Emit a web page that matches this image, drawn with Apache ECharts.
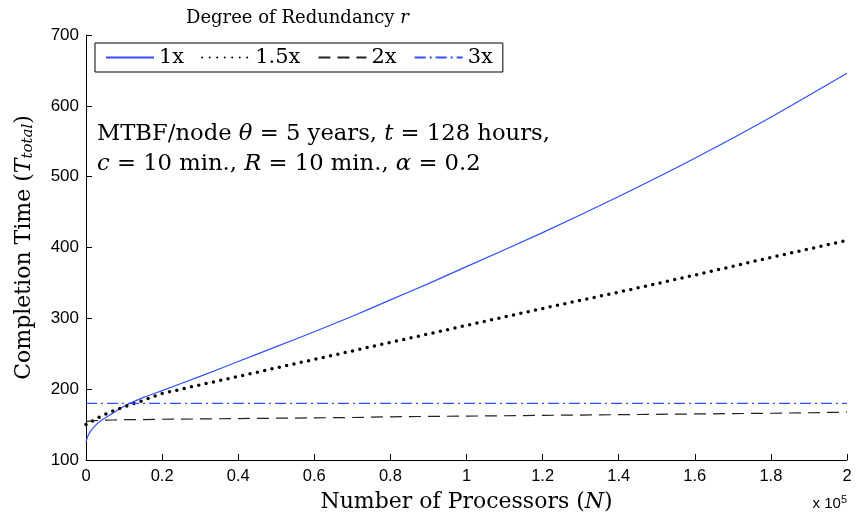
<!DOCTYPE html>
<html>
<head>
<meta charset="utf-8">
<script src="https://cdn.jsdelivr.net/npm/echarts@6/dist/echarts.min.js"></script>
<style>
  html, body { margin: 0; padding: 0; background: #fff; }
  #chart { width: 862px; height: 514px; }
</style>
</head>
<body>
<div id="chart"></div>
<script>
// number of processors, in units of 10^5
var procs = [0, 0.005, 0.01, 0.02, 0.04, 0.07, 0.1, 0.15, 0.2, 0.3, 0.4, 0.5, 0.6, 0.7, 0.8, 0.9, 1.0, 1.2, 1.4, 1.6, 1.8, 2.0];

// completion time per degree of redundancy
var red1x  = [126, 134, 139, 146, 156, 166, 176, 188, 198, 218, 239, 260, 281, 303, 326, 349, 373, 421, 472, 526, 584, 646];
var red15x = [150, 151, 153, 156, 162, 169, 175, 184, 194, 206, 218, 230, 242, 254, 266, 278, 290, 314, 337, 361, 386, 410];
var red2x  = [155, 155, 155, 155.5, 156, 156.5, 157, 157, 157.5, 158, 158.5, 159, 159.5, 160, 161, 161.5, 162, 163, 164, 165, 166, 167.5];
var red3x  = [180, 180, 180, 180, 180, 180, 180, 180, 180, 180, 180, 180, 180, 180, 180, 180, 180, 180, 180, 180, 180, 180];

var seriesNames = ['1x', '1.5x', '2x', '3x'];

function pairs(vals) {
  return procs.map(function (n, i) { return [n, vals[i]]; });
}

var serif = 'DejaVu Serif';
var sans = 'Liberation Sans';

var myChart = echarts.init(document.getElementById('chart'));

option = {
  backgroundColor: '#fff',
  animation: false,
  grid: { left: 86, right: 15, top: 35, bottom: 54, outerBoundsMode: 'none', containLabel: false },
  legend: {
    data: seriesNames,
    left: 95,
    top: 43,
    padding: [4, 10, 4, 10],
    borderColor: '#000',
    borderWidth: 1,
    itemWidth: 48,
    itemHeight: 14,
    itemGap: 17,
    itemStyle: { opacity: 0 },
    textStyle: { fontFamily: serif, fontSize: 21, color: '#000' }
  },
  xAxis: {
    type: 'value',
    min: 0,
    max: 2,
    interval: 0.2,
    name: '{n|Number of Processors (}{i|N}{n|)}',
    nameLocation: 'middle',
    nameGap: 31,
    nameTextStyle: {
      rich: {
        n: { fontFamily: serif, fontSize: 22, color: '#000' },
        i: { fontFamily: serif, fontSize: 22, fontStyle: 'italic', color: '#000' }
      }
    },
    axisLine: { lineStyle: { color: '#000', width: 1 } },
    axisTick: { inside: true, length: 6, lineStyle: { color: '#000' } },
    axisLabel: { fontFamily: sans, fontSize: 16.5, color: '#000', margin: 8 },
    splitLine: { show: false }
  },
  yAxis: {
    type: 'value',
    min: 100,
    max: 700,
    interval: 100,
    name: '{n|Completion Time (}{i|T}{s|total}{n|)}',
    nameLocation: 'middle',
    nameGap: 50,
    nameTextStyle: {
      rich: {
        n: { fontFamily: serif, fontSize: 22, color: '#000' },
        i: { fontFamily: serif, fontSize: 22, fontStyle: 'italic', color: '#000' },
        s: { fontFamily: serif, fontSize: 15, fontStyle: 'italic', color: '#000', padding: [8, 0, 0, 0] }
      }
    },
    axisLine: { show: true, lineStyle: { color: '#000', width: 1 } },
    axisTick: { inside: true, length: 6, lineStyle: { color: '#000' } },
    axisLabel: { fontFamily: sans, fontSize: 17, color: '#000', margin: 7 },
    splitLine: { show: false }
  },
  series: [
    {
      name: '1x', type: 'line', symbol: 'none', smooth: 0.2, data: pairs(red1x),
      lineStyle: { color: '#3050ff', width: 1.2 }, itemStyle: { color: '#3050ff' }
    },
    {
      name: '1.5x', type: 'line', symbol: 'none', data: pairs(red15x),
      lineStyle: { color: '#000', width: 3.5, type: [0, 7.5], cap: 'round' }, itemStyle: { color: '#000' }
    },
    {
      name: '2x', type: 'line', symbol: 'none', data: pairs(red2x),
      lineStyle: { color: '#222', width: 1.2, type: [12, 7] }, itemStyle: { color: '#222' }
    },
    {
      name: '3x', type: 'line', symbol: 'none', data: pairs(red3x),
      lineStyle: { color: '#3050ff', width: 1.2, type: [11, 4, 2, 4] }, itemStyle: { color: '#3050ff' }
    }
  ],
  graphic: [
    {
      type: 'text', left: 186, top: 9,
      style: {
        text: '{n|Degree of Redundancy }{i|r}',
        rich: {
          n: { fontFamily: serif, fontSize: 18, fill: '#000' },
          i: { fontFamily: serif, fontSize: 18, fontStyle: 'italic', fill: '#000' }
        }
      }
    },
    {
      type: 'text', left: 97, top: 123,
      style: {
        text: '{n|MTBF/node }{i|θ}{n| = 5 years, }{i|t}{n| = 128 hours,}\n{i|c}{n| = 10 min., }{i|R}{n| = 10 min., }{i|α}{n| = 0.2}',
        rich: {
          n: { fontFamily: serif, fontSize: 22.7, fill: '#000', lineHeight: 30 },
          i: { fontFamily: serif, fontSize: 22.7, fontStyle: 'italic', fill: '#000', lineHeight: 30 }
        }
      }
    },
    {
      type: 'text', right: 15, top: 494,
      style: {
        text: 'x 10{s|5}',
        fontFamily: sans, fontSize: 15, fill: '#000',
        rich: { s: { fontFamily: sans, fontSize: 11, fill: '#000', padding: [0, 0, 9, 0] } }
      }
    }
  ]
};

myChart.setOption(option, true);
</script>
</body>
</html>
